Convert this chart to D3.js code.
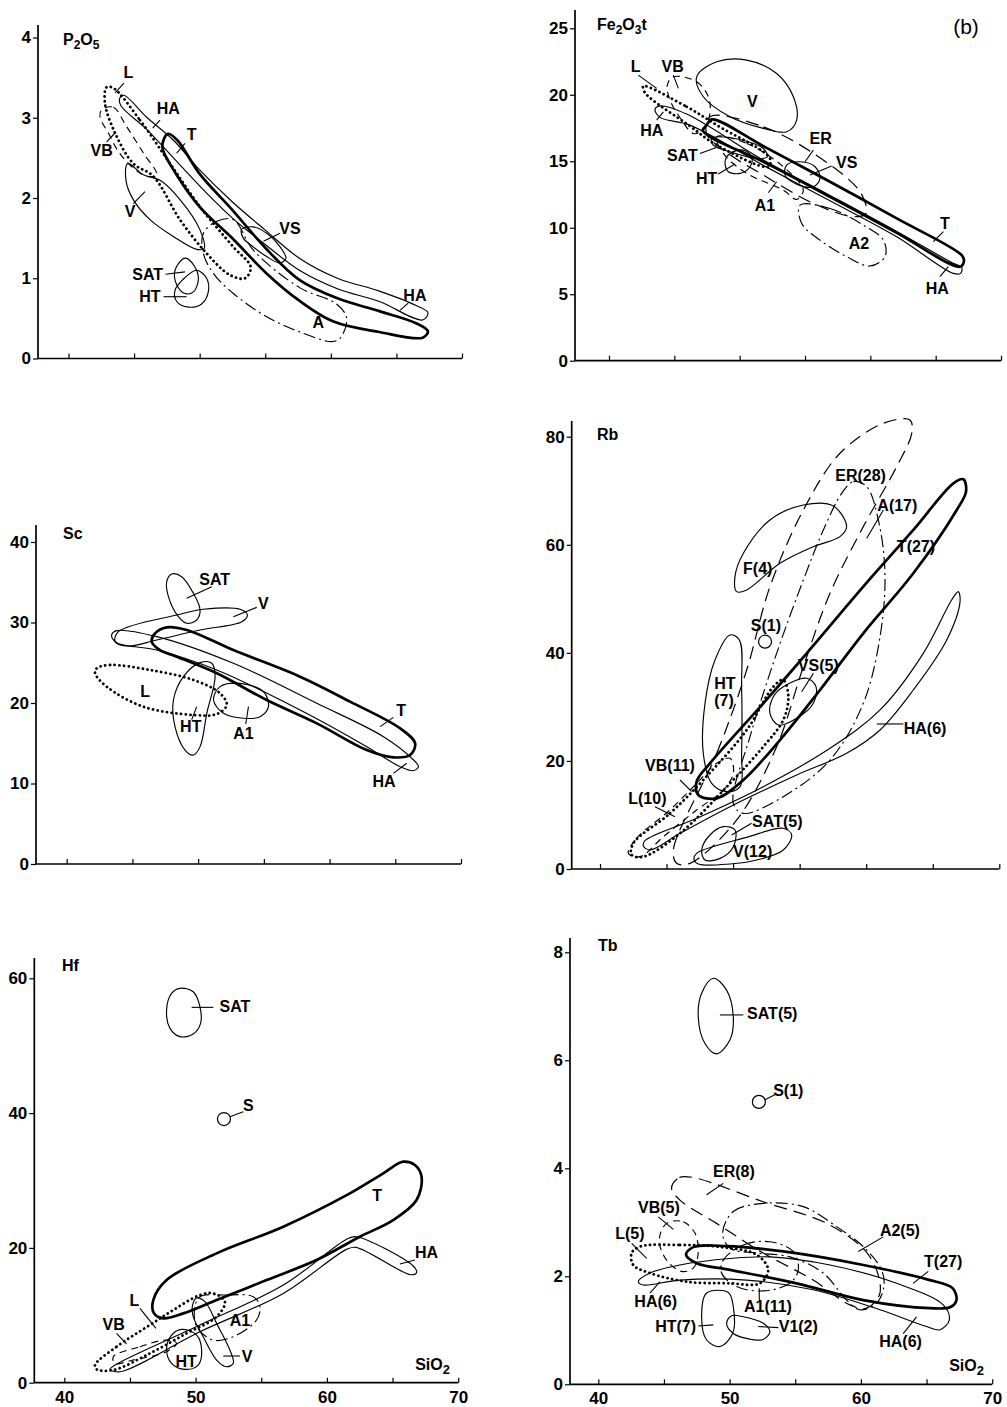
<!DOCTYPE html>
<html><head><meta charset="utf-8">
<script src="https://cdn.jsdelivr.net/npm/d3@7"></script>
<style>body{margin:0;background:#fff}</style>
</head><body><svg id="c" width="1007" height="1407"></svg>
<script>
// ---------------- DATA (SiO2, element value) ----------------
// P2O5 panel
const P2O5_HA=[[43.9,3.24],[44.2,3.28],[46,3.0],[48,2.72],[50,2.35],[52.5,1.95],[55,1.6],[57.6,1.25],[60.5,1.0],[63.7,0.84],[66.5,0.66],[67.4,0.57],[67,0.48],[63.7,0.71],[60.5,0.87],[57.6,1.10],[55,1.42],[52.5,1.75],[50,2.15],[48,2.50],[46,2.85],[44.0,3.15]];
const P2O5_T=[[47.2,2.70],[47.6,2.80],[48.3,2.72],[50,2.30],[52.5,1.85],[55,1.38],[57.6,0.98],[60.5,0.75],[63.7,0.59],[66.5,0.44],[67.4,0.34],[67,0.26],[63.7,0.33],[60.2,0.46],[57.6,0.72],[55.1,1.06],[52.6,1.48],[50,1.89],[48.2,2.3],[47.2,2.6]];
const P2O5_L=[[43.42,3.37],[45.45,2.97],[47.74,2.43],[50.03,1.89],[52.57,1.39],[53.89,1.14],[53.46,1.0],[52.31,1.04],[50.53,1.31],[48.5,1.73],[46.47,2.27],[44.94,2.43],[43.55,2.81],[42.78,3.18],[42.9,3.38]];
const P2O5_VB=[[42.53,3.10],[43.42,3.13],[44.43,2.89],[45.71,2.56],[46.72,2.29],[45.96,2.27],[44.82,2.39],[43.8,2.58],[43.04,2.81],[42.4,3.01]];
const P2O5_V=[[44.51,2.43],[45.71,2.29],[46.98,2.22],[48.5,1.98],[50.03,1.60],[50.33,1.37],[49.77,1.36],[47.99,1.52],[46.21,1.73],[44.94,1.98],[44.38,2.22]];
const P2O5_A=[[50.28,1.56],[51.3,1.71],[52.57,1.73],[54.09,1.35],[57.65,0.88],[60.44,0.68],[61.21,0.50],[60.7,0.25],[60.06,0.21],[57.65,0.33],[55.11,0.52],[52.57,0.81],[51.04,1.06],[50.28,1.31]];
const P2O5_VS=[[53.2,1.61],[54.09,1.64],[55.11,1.56],[56.13,1.39],[56.58,1.25],[56.13,1.19],[55.11,1.27],[54.09,1.39],[53.33,1.50]];
const P2O5_SAT=[[48.88,1.25],[49.64,1.14],[49.9,0.98],[49.52,0.83],[48.88,0.81],[48.25,0.92],[48.12,1.10]];
const P2O5_HT=[[49.77,1.10],[50.53,1.0],[50.66,0.83],[50.15,0.68],[49.14,0.64],[48.25,0.71],[48.12,0.85],[48.7,0.98]];
const P2O5_labels=[["L",44.56,3.57,44.23,3.43,43.55,3.31],["HA",47.61,3.12,46.98,2.97,46.42,2.87],["T",49.39,2.79,48.88,2.68,48.25,2.56],["VB",42.53,2.60,42.91,2.70,43.55,2.81],["V",44.69,1.83,44.94,1.93,45.83,2.08],["VS",56.89,1.62,56.13,1.56,54.86,1.46],["SAT",46.04,1.05,47.4,1.05,48.88,1.08],["HT",46.21,0.77,47.25,0.77,49.0,0.77],["A",59.05,0.45],["HA",66.41,0.79,65.9,0.69,65.27,0.60]];

// Fe2O3t panel
const Fe_T=[[47.47,17.72],[47.86,18.15],[51.81,16.14],[56.91,13.46],[62.02,10.70],[66.99,7.94],[67.17,7.52],[66.86,7.07],[62.02,9.62],[56.91,12.33],[51.81,14.96],[47.73,16.84],[47.17,17.34]];
const Fe_HA=[[43.52,18.90],[43.90,19.17],[45.94,18.55],[51.81,15.09],[56.91,12.43],[62.02,9.72],[66.35,7.32],[66.99,7.02],[66.91,6.57],[66.35,6.57],[62.02,9.32],[56.91,12.03],[51.81,14.69],[46.2,17.72],[43.9,18.30]];
const Fe_L=[[42.63,20.65],[45.94,19.10],[48.24,17.72],[52.32,15.21],[52.19,14.59],[48.24,16.22],[46.2,17.64],[42.76,20.15]];
const Fe_VB=[[44.92,21.35],[46.71,20.98],[47.6,19.85],[47.73,18.60],[47.22,17.34],[46.45,17.09],[45.56,18.10],[44.67,19.60],[44.46,20.73]];
const Fe_V=[[46.71,21.35],[48.24,22.48],[50.54,22.61],[52.83,21.60],[54.11,19.85],[54.36,18.10],[53.6,17.22],[51.81,17.47],[49.26,18.35],[47.22,19.85]];
const Fe_ER=[[47.73,18.35],[51.81,17.59],[55.64,15.59],[59.21,12.71],[59.67,11.08],[58.70,10.83],[55.64,11.83],[51.81,13.96],[48.75,15.84],[47.47,17.09]];
const Fe_A1=[[48.24,16.84],[50.54,16.34],[53.34,14.59],[54.87,12.83],[54.36,12.13],[53.34,12.83],[50.54,14.09],[48.75,15.59]];
const Fe_A2=[[54.62,11.70],[56.91,11.45],[59.46,10.20],[61.0,9.07],[61.12,7.82],[59.97,7.12],[58.19,7.82],[56.15,9.07],[54.74,10.33]];
const Fe_SAT=[[47.86,16.72],[49.26,16.77],[51.81,15.96],[52.12,15.34],[51.30,15.21],[49.26,15.71],[47.98,16.22]];
const Fe_HT=[[49.26,15.59],[50.28,15.84],[50.92,15.34],[50.79,14.59],[50.03,14.09],[49.13,14.21],[48.88,14.96]];
const Fe_VS=[[53.6,14.71],[54.62,14.96],[55.77,14.59],[56.15,13.71],[55.64,13.08],[54.36,13.28],[53.47,13.96]];
const Fe_labels=[["L",42.04,22.18,42.24,21.48,43.65,20.48],["VB",44.87,22.18,44.92,21.48,45.31,20.48],["V",50.97,19.55],["HA",43.27,17.34,43.65,18.10,44.16,18.72],["SAT",45.61,15.46,46.96,15.59,48.37,16.09],["HT",47.47,13.71,48.37,14.04,49.64,14.79],["A1",51.94,11.70,52.19,12.63,52.83,13.46],["ER",56.20,16.72,55.64,15.84,55.0,14.96],["VS",58.19,14.96,57.04,14.64,55.38,13.96],["A2",59.13,8.82],["T",65.71,10.33,65.59,9.70,64.82,8.95],["HA",65.13,5.44,65.33,6.32,65.97,7.07]];

// Sc panel
const Sc_T=[[46.72,28.65],[47.61,29.40],[49.13,29.07],[52.68,26.58],[57.76,23.27],[61.56,20.17],[65.37,16.85],[66.51,14.99],[66.13,13.54],[64.86,13.25],[62.83,14.16],[59.03,17.47],[55.22,20.37],[51.42,23.69],[48.37,25.76],[47.10,26.58],[46.47,27.62]];
const Sc_HA=[[43.42,28.45],[43.81,28.99],[46.85,28.24],[52.68,24.93],[59.03,19.96],[64.10,15.82],[66.26,13.13],[66.76,12.09],[66.38,11.59],[65.37,12.09],[62.83,14.58],[57.76,19.13],[51.42,24.10],[46.85,26.58],[43.81,27.49]];
const Sc_V=[[43.93,28.86],[48.37,30.93],[50.40,31.64],[53.19,31.64],[53.75,30.93],[53.32,30.10],[50.15,29.07],[46.85,27.83],[44.69,27.08],[43.68,27.62]];
const Sc_SAT=[[47.99,36.02],[48.75,35.69],[49.64,33.62],[50.15,31.55],[49.89,30.31],[49.13,29.90],[48.50,30.72],[47.74,33.21],[47.61,35.07]];
const Sc_L=[[42.28,24.31],[43.30,24.72],[46.34,24.10],[49.64,22.86],[51.67,21.20],[52.18,19.75],[51.42,18.63],[49.64,18.51],[45.83,19.54],[43.04,22.03],[42.16,23.69]];
const Sc_HT=[[50.15,25.01],[51.04,24.93],[51.29,23.27],[50.66,18.72],[50.15,14.58],[49.64,13.54],[49.0,14.16],[48.24,17.06],[48.12,20.37],[48.88,23.27]];
const Sc_A1=[[51.67,22.03],[53.19,22.44],[54.97,21.41],[55.35,19.54],[54.71,18.30],[53.45,18.10],[51.93,18.72],[51.17,20.37]];
const Sc_labels=[["SAT",51.26,35.40,51.04,34.45,49.13,33.0],["V",54.97,32.38,54.46,31.88,52.68,30.72],["L",45.96,21.41],["HT",49.44,17.06,49.51,17.93,49.89,19.54],["A1",53.45,16.23,53.62,17.39,53.83,19.54],["T",65.44,19.13,64.86,18.22,63.85,17.06],["HA",64.15,10.23,64.86,11.26,65.87,12.51]];

// Rb panel
const Rb_T=[[47.26,16.16],[48.26,19.56],[52.27,30.66],[55.53,39.91],[59.78,52.25],[63.54,62.74],[66.55,71.38],[67.30,72.12],[67.50,69.83],[66.80,66.44],[63.54,54.72],[59.78,43.62],[56.53,33.13],[53.52,23.87],[50.77,16.47],[48.77,13.08],[47.39,13.70]];
const Rb_HA=[[43.38,5.24],[47.26,9.38],[52.27,15.24],[57.28,22.33],[61.04,29.43],[64.29,39.91],[66.42,49.78],[66.92,51.33],[67.05,49.48],[66.05,42.38],[63.54,33.13],[61.04,25.73],[58.53,21.41],[54.78,17.40],[49.77,11.54],[46.01,6.60],[43.76,3.52],[43.26,4.26]];
const Rb_ER=[[45.51,3.52],[48.77,21.41],[51.02,36.83],[52.77,52.25],[55.28,66.44],[58.03,76.93],[61.29,82.48],[63.29,83.10],[63.42,80.63],[62.29,74.46],[59.78,63.36],[57.28,51.02],[55.28,37.45],[53.27,22.64],[50.27,9.07],[46.76,1.05],[45.76,1.05]];
const Rb_A=[[58.16,69.52],[59.03,71.68],[60.04,70.76],[60.91,64.59],[61.41,54.72],[61.04,43.0],[59.78,30.66],[57.28,20.17],[53.77,13.39],[50.77,10.30],[50.02,12.15],[51.27,24.49],[53.27,39.91],[55.28,53.49],[56.78,62.74]];
const Rb_F=[[50.77,58.42],[52.77,64.59],[55.28,67.37],[57.53,67.18],[58.53,63.36],[58.03,61.50],[56.03,59.65],[53.52,56.57],[51.02,51.63],[50.27,51.33],[50.14,54.10]];
const Rb_S=[[52.40,42.07]];
const Rb_HT=[[49.77,43.31],[50.47,42.38],[50.64,33.74],[50.64,21.41],[50.52,15.24],[49.52,14.31],[48.39,15.85],[47.76,21.41],[47.89,30.66],[48.64,38.68]];
const Rb_VS=[[53.77,33.74],[55.53,35.29],[56.23,33.74],[56.03,30.66],[54.78,27.88],[53.40,26.65],[52.77,28.81],[53.02,31.89]];
const Rb_VB=[[42.13,2.90],[42.75,5.68],[45.26,10.92],[47.26,15.85],[48.77,19.56],[49.77,20.48],[50.02,17.71],[49.27,14.62],[47.26,10.92],[44.76,5.98],[43.01,2.28]];
const Rb_L=[[42.50,4.75],[45.26,10.30],[47.76,16.47],[51.02,25.72],[53.02,33.74],[53.77,34.98],[54.15,31.89],[53.77,27.58],[52.27,22.64],[49.77,15.85],[46.01,6.60],[43.26,2.28],[42.38,2.59]];
const Rb_SAT=[[49.27,7.83],[50.14,7.22],[50.02,4.13],[49.02,1.97],[47.89,1.67],[47.64,3.52],[48.26,6.29]];
const Rb_V=[[47.26,2.90],[51.02,5.86],[53.77,7.53],[54.40,6.29],[53.77,3.52],[51.77,1.67],[49.77,0.93],[47.39,0.93],[47.06,1.79]];
const Rb_labels=[["ER(28)",59.58,72.8],["A(17)",62.34,67.24,61.29,66.44,60.04,61.2],["T(27)",63.74,59.65],["F(4)",51.85,55.64],["S(1)",52.47,45.03],["HT",49.39,34.36],["(7)",49.32,31.28],["VS(5)",56.40,37.75,56.03,36.2,55.15,32.8],["HA(6)",64.42,26.03,62.79,26.84,60.79,26.84],["VB(11)",45.26,19.25,46.01,16.47,46.89,14.31],["L(10)",43.56,13.08,44.13,11.54,45.63,9.69],["SAT(5)",53.32,8.76,51.39,8.45,49.89,6.29],["V(12)",51.47,3.21]];

// Hf panel
const Hf_T=[[46.78,12.27],[47.79,15.23],[51.60,19.19],[56.68,23.15],[61.75,28.09],[64.29,31.06],[65.81,32.79],[66.70,32.30],[67.21,30.56],[66.83,27.10],[65.05,24.13],[62.51,21.66],[59.21,18.20],[55.41,15.23],[51.60,12.27],[49.06,10.29],[47.54,9.55],[46.83,10.29]];
const Hf_HA=[[43.48,1.98],[43.86,2.62],[50.33,8.56],[56.68,14.49],[61.50,21.27],[62.21,21.66],[66.57,17.31],[66.83,16.32],[66.37,16.02],[62.21,20.08],[61.50,19.78],[56.68,13.25],[50.33,7.57],[44.24,1.63]];
const Hf_SAT=[[48.81,58.51],[49.82,58.01],[50.33,55.79],[50.38,53.31],[49.82,51.73],[48.81,51.34],[48.05,52.57],[47.79,55.29],[48.17,57.76]];
const Hf_S=[[52.16,39.12]];
const Hf_L=[[42.34,2.62],[43.98,5.34],[46.52,8.56],[48.30,10.78],[50.33,13.01],[51.35,13.25],[52.23,12.02],[51.60,9.79],[49.31,7.32],[46.52,4.35],[43.73,1.88],[42.46,1.98]];
const Hf_VB=[[43.73,3.86],[45.76,5.34],[47.79,6.33],[48.55,5.84],[47.79,4.60],[45.25,3.36],[43.86,2.87]];
const Hf_A1=[[50.33,12.76],[52.36,13.01],[54.39,12.76],[54.90,11.28],[54.64,9.30],[52.87,6.82],[51.35,6.33],[50.08,8.31],[49.95,11.28]];
const Hf_HT=[[48.93,7.91],[50.08,7.07],[50.46,4.85],[50.20,2.62],[49.19,1.98],[48.17,2.87],[47.79,5.09],[48.17,7.07]];
const Hf_V=[[50.08,12.56],[50.71,12.02],[51.60,8.80],[52.61,4.85],[52.87,2.87],[52.36,2.37],[51.60,3.36],[50.58,6.82],[49.82,9.79],[49.77,11.52]];
const Hf_labels=[["SAT",53.0,55.88,51.35,55.69,49.70,55.69],["S",54.01,41.1,53.63,40.21,52.61,39.47],["T",63.83,27.84],["HA",67.59,19.39,66.70,18.20,65.56,17.61],["L",45.33,12.27,45.76,11.03,46.98,8.06],["VB",43.76,8.65,43.98,7.32,44.75,5.74],["A1",53.38,9.30],["HT",49.28,3.21],["V",53.93,3.96,53.38,3.96,52.11,3.96]];

// Tb panel
const Tb_SAT=[[48.76,7.52],[49.77,7.30],[50.28,6.81],[50.03,6.38],[49.01,6.12],[48.12,6.31],[47.61,6.81],[47.87,7.24]];
const Tb_S=[[52.23,5.23]];
const Tb_ER=[[45.58,3.63],[46.17,3.83],[47.23,3.83],[52.56,3.38],[57.64,2.95],[60.69,2.36],[61.45,1.69],[60.43,1.41],[59.16,1.47],[56.37,1.93],[52.56,2.43],[49.01,2.98],[46.22,3.41]];
const Tb_A2=[[49.47,2.80],[50.28,3.20],[52.56,3.35],[55.61,3.29],[58.15,2.92],[60.18,2.55],[61.57,2.12],[61.75,1.81],[61.19,1.50],[59.92,1.38],[58.91,1.56],[57.13,2.06],[54.59,2.36],[52.06,2.43],[50.03,2.52]];
const Tb_A1=[[49.52,2.30],[51.04,2.58],[53.07,2.64],[54.85,2.46],[55.23,2.12],[54.59,1.87],[52.56,1.73],[50.53,1.81],[49.39,2.06]];
const Tb_VB=[[45.20,2.98],[46.47,3.01],[47.36,2.80],[47.61,2.43],[47.23,2.15],[46.35,2.09],[45.20,2.30],[44.64,2.67]];
const Tb_L=[[43.17,2.55],[46.22,2.58],[49.01,2.55],[52.06,2.40],[52.94,2.12],[52.31,1.87],[50.03,1.87],[46.73,1.90],[43.93,2.06],[42.66,2.21],[42.54,2.43]];
const Tb_T=[[46.68,2.40],[47.23,2.54],[49.77,2.56],[54.09,2.46],[60.18,2.21],[65.25,1.93],[66.98,1.78],[67.28,1.56],[66.83,1.43],[65.25,1.41],[60.18,1.56],[55.10,1.87],[50.03,2.12],[47.49,2.24]];
const Tb_HA=[[43.05,1.90],[43.93,2.06],[46.22,2.21],[50.03,2.33],[53.07,2.36],[57.64,2.21],[62.72,1.87],[66.27,1.47],[66.73,1.19],[66.02,1.01],[65.0,1.07],[61.45,1.38],[56.37,1.75],[51.29,1.93],[46.22,1.93],[43.43,1.84]];
const Tb_HT=[[48.25,1.69],[49.90,1.70],[50.28,1.44],[50.23,0.94],[49.26,0.70],[48.25,0.82],[47.87,1.25]];
const Tb_V1=[[50.15,1.27],[51.04,1.25],[52.56,1.13],[53.07,0.98],[52.56,0.83],[51.29,0.85],[50.28,0.94],[49.77,1.13]];
const Tb_labels=[["SAT(5)",53.25,6.87,51.04,6.84,49.26,6.84],["S(1)",54.47,5.45,53.45,5.36,52.69,5.27],["ER(8)",50.33,3.94,49.52,3.72,48.25,3.51],["VB(5)",44.62,3.28,44.57,3.10,45.71,2.87],["L(5)",42.41,2.80,42.54,2.61,43.68,2.33],["A2(5)",62.97,2.86,61.70,2.73,59.80,2.46],["T(27)",66.27,2.27,65.13,2.09,63.98,1.87],["HA(6)",44.37,1.53,43.93,1.69,44.70,1.90],["A1(11)",52.92,1.44,52.26,1.56,52.26,1.78],["HT(7)",45.89,1.07,47.61,1.08,48.76,1.10],["V1(2)",55.23,1.07,53.71,1.05,52.18,1.07],["HA(6)",63.02,0.79,63.22,0.94,64.24,1.25]];

const xTickValues=[40,45,50,55,60,65,70];
const xTickLabels=[40,50,60,70];

// ---------------- LAYOUT ----------------
const PANELS=[
 {yd:[0,4],xr:[68.5,462],yr:[358.5,37.5],ax:38,top:25,yt:[0,1,2,3,4],xl:false,title:[["P",0],["2",1],["O",0],["5",1]],tx:63,ty:45,
  fields:[[P2O5_VB,"dash"],[P2O5_V,"thin"],[P2O5_A,"dashdot"],[P2O5_VS,"thin"],[P2O5_SAT,"thin"],[P2O5_HT,"thin"],[P2O5_HA,"thin"],[P2O5_L,"dot"],[P2O5_T,"thick"]],labels:P2O5_labels},
 {yd:[0,25],xr:[609,1001],yr:[360.7,28.3],ax:575,top:10,yt:[0,5,10,15,20,25],xl:false,title:[["Fe",0],["2",1],["O",0],["3",1],["t",0]],tx:597,ty:30,
  fields:[[Fe_ER,"longdash"],[Fe_A1,"dash"],[Fe_A2,"dashdot"],[Fe_VB,"dash"],[Fe_V,"thin"],[Fe_SAT,"thin"],[Fe_HT,"thin"],[Fe_VS,"thin"],[Fe_HA,"thin"],[Fe_L,"dot"],[Fe_T,"thick"]],labels:Fe_labels},
 {yd:[0,40],xr:[66.7,461],yr:[864,542],ax:36,top:525,yt:[0,10,20,30,40],xl:false,title:[["Sc",0]],tx:63,ty:539,
  fields:[[Sc_V,"thin"],[Sc_SAT,"thin"],[Sc_HT,"thin"],[Sc_A1,"thin"],[Sc_HA,"thin"],[Sc_L,"dot"],[Sc_T,"thick"]],labels:Sc_labels},
 {yd:[0,80],xr:[600,999.3],yr:[869,436.7],ax:571.7,top:421,yt:[0,20,40,60,80],xl:false,title:[["Rb",0]],tx:597,ty:440,
  fields:[[Rb_ER,"longdash"],[Rb_A,"dashdot"],[Rb_F,"thin"],[Rb_S,"circle"],[Rb_HT,"thin"],[Rb_VS,"thin"],[Rb_VB,"dash"],[Rb_SAT,"thin"],[Rb_V,"thin"],[Rb_HA,"thin"],[Rb_L,"dot"],[Rb_T,"thick"]],labels:Rb_labels},
 {yd:[0,60],xr:[64.3,458.2],yr:[1382.7,978.3],ax:34.3,top:958,yt:[0,20,40,60],xl:true,title:[["Hf",0]],tx:62,ty:971,
  fields:[[Hf_SAT,"thin"],[Hf_S,"circle"],[Hf_VB,"dash"],[Hf_A1,"dashdot"],[Hf_HT,"thin"],[Hf_V,"thin"],[Hf_HA,"thin"],[Hf_L,"dot"],[Hf_T,"thick"]],labels:Hf_labels},
 {yd:[0,8],xr:[598.3,992.2],yr:[1384.3,952.3],ax:570,top:938,yt:[0,2,4,6,8],xl:true,title:[["Tb",0]],tx:598,ty:951,
  fields:[[Tb_SAT,"thin"],[Tb_S,"circle"],[Tb_ER,"longdash"],[Tb_A2,"dashdot"],[Tb_A1,"dashdot"],[Tb_VB,"dash"],[Tb_HT,"thin"],[Tb_V1,"thin"],[Tb_HA,"thin"],[Tb_L,"dot"],[Tb_T,"thick"]],labels:Tb_labels}
];

const FONT="'Liberation Sans', Arial, Helvetica, sans-serif";
const STY={thick:{w:2.7},thin:{w:1.15},dot:{w:2.8,d:"0.1 4.6",cap:"round"},dash:{w:1.15,d:"7 5"},longdash:{w:1.2,d:"13 7"},dashdot:{w:1.15,d:"12 4 2 4"},circle:{w:1.2}};
const svg=d3.select("#c");
svg.append("rect").attr("width",1007).attr("height",1407).attr("fill","#fff");

PANELS.forEach(P=>{
  const x=d3.scaleLinear().domain([40,70]).range(P.xr);
  const y=d3.scaleLinear().domain(P.yd).range(P.yr);
  const g=svg.append("g");
  g.append("line").attr("x1",P.ax).attr("x2",P.ax).attr("y1",y(0)).attr("y2",P.top).attr("stroke","#000").attr("stroke-width",1.7);
  g.append("line").attr("x1",P.ax).attr("x2",x(70)).attr("y1",y(0)).attr("y2",y(0)).attr("stroke","#000").attr("stroke-width",1.7);
  const ya=g.append("g").attr("transform",`translate(${P.ax},0)`)
    .call(d3.axisLeft(y).tickValues(P.yt).tickSize(5).tickPadding(2).tickFormat(d3.format("d")));
  ya.select(".domain").remove();
  ya.selectAll("line").attr("stroke-width",1.2);
  ya.selectAll("text").attr("font-family",FONT).attr("font-size",17).attr("font-weight","bold");
  const xa=g.append("g").attr("transform",`translate(0,${y(0)})`)
    .call(d3.axisBottom(x).tickValues(xTickValues).tickSizeInner(-5).tickSizeOuter(0).tickPadding(8)
      .tickFormat(d=>P.xl && xTickLabels.includes(d)?d:""));
  xa.select(".domain").remove();
  xa.selectAll("line").attr("stroke-width",1.2);
  xa.selectAll("text").attr("font-family",FONT).attr("font-size",17).attr("font-weight","bold");
  if(P.xl){
    const t=g.append("text").attr("x",x(70)-43).attr("y",y(0)-13).attr("font-family",FONT).attr("font-size",16).attr("font-weight","bold");
    t.append("tspan").text("SiO");
    t.append("tspan").attr("dy",4).attr("font-size",13).text("2");
  }
  const tt=g.append("text").attr("x",P.tx).attr("y",P.ty).attr("font-family",FONT).attr("font-size",16).attr("font-weight","bold");
  let sub=false;
  P.title.forEach(([s,isSub])=>{
    const ts=tt.append("tspan").text(s);
    if(isSub&&!sub){ts.attr("dy",4).attr("font-size",12);sub=true;}
    else if(!isSub&&sub){ts.attr("dy",-4);sub=false;}
  });
  const line=d3.line().x(d=>x(d[0])).y(d=>y(d[1])).curve(d3.curveCatmullRomClosed.alpha(0.5));
  P.fields.forEach(([pts,st])=>{
    const s=STY[st];
    if(st==="circle"){
      g.append("circle").attr("cx",x(pts[0][0])).attr("cy",y(pts[0][1])).attr("r",6.5)
       .attr("fill","none").attr("stroke","#000").attr("stroke-width",s.w);
      return;
    }
    const p=g.append("path").attr("d",line(pts)).attr("fill","none").attr("stroke","#000")
      .attr("stroke-width",s.w).attr("stroke-linejoin","round");
    if(s.d)p.attr("stroke-dasharray",s.d);
    if(s.cap)p.attr("stroke-linecap",s.cap);
  });
  P.labels.forEach(l=>{
    if(l.length>3){
      g.append("line").attr("x1",x(l[3])).attr("y1",y(l[4])).attr("x2",x(l[5])).attr("y2",y(l[6]))
        .attr("stroke","#000").attr("stroke-width",1.1);
    }
    g.append("text").attr("x",x(l[1])).attr("y",y(l[2])).attr("text-anchor","middle").attr("dy","0.36em")
      .attr("font-family",FONT).attr("font-size",16).attr("font-weight","bold").text(l[0]);
  });
});
svg.append("text").attr("x",966).attr("y",34).attr("text-anchor","middle").attr("font-family",FONT)
  .attr("font-size",21).text("(b)");
</script></body></html>
